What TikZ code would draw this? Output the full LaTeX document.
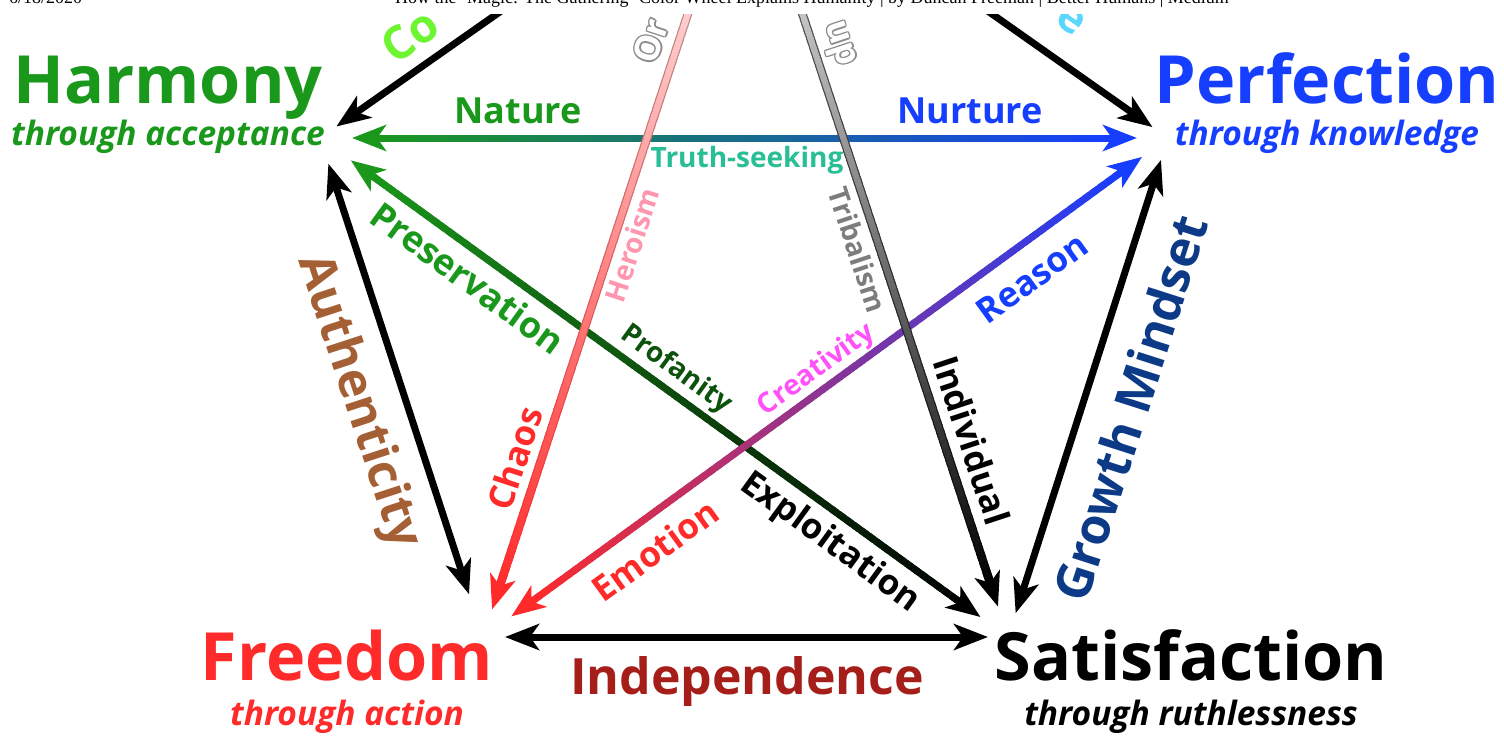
\documentclass[tikz,border=0pt]{standalone}
\usepackage{fontspec}
\setmainfont{Open Sans}
\newfontfamily\hdrfont{Liberation Serif}
\usetikzlibrary{arrows.meta,calc}
\definecolor{cG}{RGB}{26,152,28}
\definecolor{cB}{RGB}{22,62,255}
\definecolor{cR}{RGB}{255,42,42}
\definecolor{cTeal}{RGB}{40,190,150}
\definecolor{cDkG}{RGB}{12,82,12}
\definecolor{cMag}{RGB}{255,80,250}
\definecolor{cPink}{RGB}{255,150,175}
\definecolor{cGray}{RGB}{125,125,125}
\definecolor{cBrown}{RGB}{165,95,52}
\definecolor{cNavy}{RGB}{12,58,135}
\definecolor{cDkR}{RGB}{165,30,25}
\definecolor{cLime}{RGB}{110,245,50}
\definecolor{cCyan}{RGB}{90,215,255}
\definecolor{cOutA}{RGB}{170,170,170}
\definecolor{cOutB}{RGB}{110,110,110}
\newcommand\fsz[1]{\fontsize{#1}{#1}\selectfont}
% gradient shaft: start, end, colour at start, colour at end, width
\newcommand\gradshaft[5]{%
  \foreach \i in {1,...,80}{%
    \pgfmathsetmacro\ta{(\i-1)/80}%
    \pgfmathsetmacro\tb{min(1,(\i+0.8)/80)}%
    \pgfmathsetmacro\mix{100-100*(\i-0.5)/80}%
    \draw[line width=#5, color=#3!\mix!#4] ($(#1)!\ta!(#2)$) -- ($(#1)!\tb!(#2)$);
  }}
\newcommand\outlined[5]{% name, position, rotation, anchor, text
  \foreach \dx/\dy in {1.4/0,-1.4/0,0/1.4,0/-1.4,1/1,-1/1,1/-1,-1/-1}{%
    \node[lbl=35, text=black!45, rotate=#3, anchor=#4] at ($(#2)+(\dx,\dy)$) {#5};}
  \node[lbl=35, text=white, rotate=#3, anchor=#4] (#1) at (#2) {#5};}
\begin{document}
\begin{tikzpicture}[x=1pt,y=-1pt,
  >={Stealth[length=34pt,width=26pt,inset=9pt]},
  edge/.style={line width=7pt,black},
  lbl/.style={font=\bfseries\fsz{#1}, inner sep=0pt},
  title/.style={font=\bfseries\fsz{66.5}, inner sep=0pt, anchor=base},
  sub/.style={font=\bfseries\itshape\fsz{33.5}, inner sep=0pt, anchor=base}]
\useasboundingbox (0,0) rectangle (1504,736);
\fill[white] (0,0) rectangle (1504,736);
% header
\node[font=\hdrfont\fsz{18}, anchor=base west, inner sep=0pt] (date) at (9,4) {6/18/2020};
\node[font=\hdrfont\fsz{18}, anchor=base west, inner sep=0pt] (hdr) at (395,4) {How the ‘Magic: The Gathering’ Color Wheel Explains Humanity | by Duncan Freeman | Better Humans | Medium};
\begin{scope}
\clip (0,14) rectangle (1504,736);
% vertices
\coordinate (H) at (320,138);
\coordinate (P) at (1168,138);
\coordinate (F) at (483,637);
\coordinate (S) at (1008,637);
\coordinate (T) at (745,-160);
% pentagon edges
\draw[edge,<->,shorten <=27pt,shorten >=45pt] (H) -- (F);
\draw[edge,<->,shorten <=22pt,shorten >=20pt] (F) -- (S);
\draw[edge,<->,shorten <=25pt,shorten >=23pt] (S) -- (P);
\draw[edge,<-,shorten <=20pt] (H) -- (T);
\draw[edge,<-,shorten <=19pt] (P) -- (T);
% diagonal H-P
\coordinate (hp1) at ($(H)!50pt!(P)$);
\coordinate (hp2) at ($(P)!49pt!(H)$);
\gradshaft{hp1}{hp2}{cG}{cB}{7pt}
\draw[line width=7pt,cG,->] ($(H)!62pt!(P)$) -- ($(H)!32pt!(P)$);
\draw[line width=7pt,cB,->] ($(P)!61pt!(H)$) -- ($(P)!31pt!(H)$);
% diagonal H-S
\coordinate (hs1) at ($(H)!56pt!(S)$);
\coordinate (hs2) at ($(S)!52pt!(H)$);
\gradshaft{hs1}{hs2}{cG}{black}{7pt}
\draw[line width=7pt,cG,->] ($(H)!68pt!(S)$) -- ($(H)!38pt!(S)$);
\draw[line width=7pt,black,->] ($(S)!64pt!(H)$) -- ($(S)!34pt!(H)$);
% diagonal P-F
\coordinate (pf1) at ($(P)!50pt!(F)$);
\coordinate (pf2) at ($(F)!53pt!(P)$);
\gradshaft{pf1}{pf2}{cB}{cR}{7pt}
\draw[line width=7pt,cB,->] ($(P)!62pt!(F)$) -- ($(P)!32pt!(F)$);
\draw[line width=7pt,cR,->] ($(F)!65pt!(P)$) -- ($(F)!35pt!(P)$);
% diagonal T-F (white to red, outlined)
\coordinate (tf2) at ($(F)!47pt!(T)$);
\gradshaft{T}{tf2}{cOutA}{cR}{8.5pt}
\gradshaft{T}{tf2}{white}{cR}{6pt}
\draw[line width=6.5pt,cR,->] ($(F)!59pt!(T)$) -- ($(F)!29pt!(T)$);
% diagonal T-S (white to black, outlined)
\coordinate (ts2) at ($(S)!50pt!(T)$);
\gradshaft{T}{ts2}{cOutB}{black}{8.5pt}
\gradshaft{T}{ts2}{white}{black}{6pt}
\draw[line width=6.5pt,black,->] ($(S)!62pt!(T)$) -- ($(S)!32pt!(T)$);
% vertex titles
\node[title, text=cG] (harmony) at (168,103) {Harmony};
\node[sub, text=cG] (harmonysub) at (168,145) {through acceptance};
\node[title, text=cB] (perfection) at (1327,103) {Perfection};
\node[sub, text=cB] (perfectionsub) at (1327,145) {through knowledge};
\node[title, text=cR] (freedom) at (347,680) {Freedom};
\node[sub, text=cR] (freedomsub) at (347,725) {through action};
\node[title, text=black] (satisfaction) at (1191,680) {Satisfaction};
\node[sub, text=black] (satisfactionsub) at (1191,725) {through ruthlessness};
% edge labels
\node[lbl=36, text=cG, anchor=base] (nature) at (518,123) {Nature};
\node[lbl=36, text=cB, anchor=base] (nurture) at (970,123) {Nurture};
\node[lbl=28, text=cTeal, anchor=base] (truth) at (747,167) {Truth-seeking};
\node[lbl=36, text=cG, rotate=-36] (preservation) at (468,278) {Preservation};
\node[lbl=28, text=cDkG, rotate=-36] (profanity) at (676,370) {Profanity};
\node[lbl=35, text=black, rotate=-36] (exploitation) at (830,543) {Exploitation};
\node[lbl=35, text=cB, rotate=36] (reason) at (1032,278) {Reason};
\node[lbl=28, text=cMag, rotate=36] (creativity) at (817,370) {Creativity};
\node[lbl=35, text=cR, rotate=36] (emotion) at (655,550) {Emotion};
\node[lbl=35, text=cR, rotate=71.8] (chaos) at (515,458) {Chaos};
\node[lbl=28, text=cPink, rotate=71.8] (heroism) at (632,245) {Heroism};
\node[lbl=28, text=cGray, rotate=-71.7] (tribalism) at (858,250) {Tribalism};
\node[lbl=35, text=black, rotate=-71.7] (individual) at (972,440) {Individual};
\node[lbl=49, text=cBrown, rotate=-71.9] (authenticity) at (358,402) {Authenticity};
\node[lbl=50, text=cNavy, rotate=72.2] (growth) at (1130,408) {Growth Mindset};
\node[lbl=50, text=cDkR, anchor=base] (independence) at (747,694) {Independence};
\node[lbl=46, text=cLime, rotate=35, anchor=west] (co) at (386,52) {Co};
\node[lbl=44, text=cCyan, rotate=-35, anchor=east] (cy) at (1082,28) {e};
\outlined{order}{644,62}{71.8}{west}{Or}
\outlined{group}{845,66}{-71.7}{east}{up}
\end{scope}
\end{tikzpicture}
\end{document}
